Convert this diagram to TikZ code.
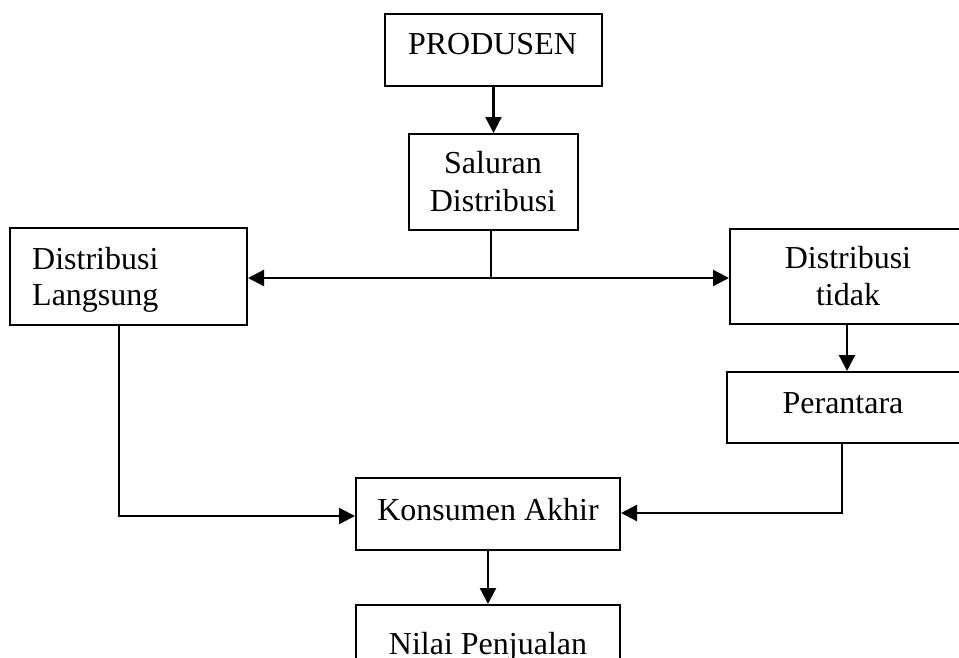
\documentclass[tikz,border=0pt]{standalone}
\usepackage{fontspec}
\setmainfont{Liberation Serif}
\usetikzlibrary{arrows.meta}
\begin{document}
\begin{tikzpicture}[x=1pt,y=-1pt,
  box/.style={draw, line width=2pt, rectangle, inner sep=0pt},
  txt/.style={inner sep=0pt, font=\fontsize{32}{37}\selectfont},
  conn/.style={line width=2.3pt},
  tip/.style={-{Triangle[length=16pt,width=16pt]}},
  tips/.style={{Triangle[length=16pt,width=16pt]}-{Triangle[length=16pt,width=16pt]}}]
\useasboundingbox (0,0) rectangle (959,657);
\clip (0,0) rectangle (959,657);
% boxes
\node[box, minimum width=217pt, minimum height=72pt] (prod) at (493.5,50) {};
\node[box, minimum width=169pt, minimum height=96pt] (sal) at (493.5,182) {};
\node[box, minimum width=237pt, minimum height=97pt] (dl) at (128.5,276.5) {};
\node[box, minimum width=240pt, minimum height=95pt] (dt) at (850,276.5) {};
\node[box, minimum width=240pt, minimum height=71pt] (per) at (847,407.5) {};
\node[box, minimum width=264pt, minimum height=72pt] (kon) at (488,514) {};
\node[box, minimum width=264pt, minimum height=70pt] (nil) at (488,640) {};
% texts
\node[txt, anchor=base] (tprod) at (492.5,54) {PRODUSEN};
\node[txt, anchor=base] (tsal1) at (493,173) {Saluran};
\node[txt, anchor=base] (tsal2) at (493,211) {Distribusi};
\node[txt, anchor=base west] (tdl1) at (32,269) {Distribusi};
\node[txt, anchor=base west] (tdl2) at (32,305) {Langsung};
\node[txt, anchor=base] (tdt1) at (848,268) {Distribusi};
\node[txt, anchor=base] (tdt2) at (848,305) {tidak};
\node[txt, anchor=base] (tper) at (843,413) {Perantara};
\node[txt, anchor=base] (tkon) at (488,520) {Konsumen Akhir};
\node[txt, anchor=base] (tnil) at (488,654) {Nilai Penjualan};
% connectors
\coordinate (hub) at (491,278);
\coordinate (lc) at (119,516);
\coordinate (rc) at (842,513);
\draw[conn, tip] (prod.south) -- (sal.north);
\draw[conn] (sal.south -| hub) -- (hub);
\draw[conn, tips] (hub -| dl.east) -- (hub -| dt.west);
\draw[conn, tip] (dt.south -| 847,0) -- (per.north -| 847,0);
\draw[conn, tip] (per.south -| rc) -- (rc) -- (rc -| kon.east);
\draw[conn, tip] (dl.south -| lc) -- (lc) -- (lc -| kon.west);
\draw[conn, tip] (kon.south) -- (nil.north);
\end{tikzpicture}
\end{document}
